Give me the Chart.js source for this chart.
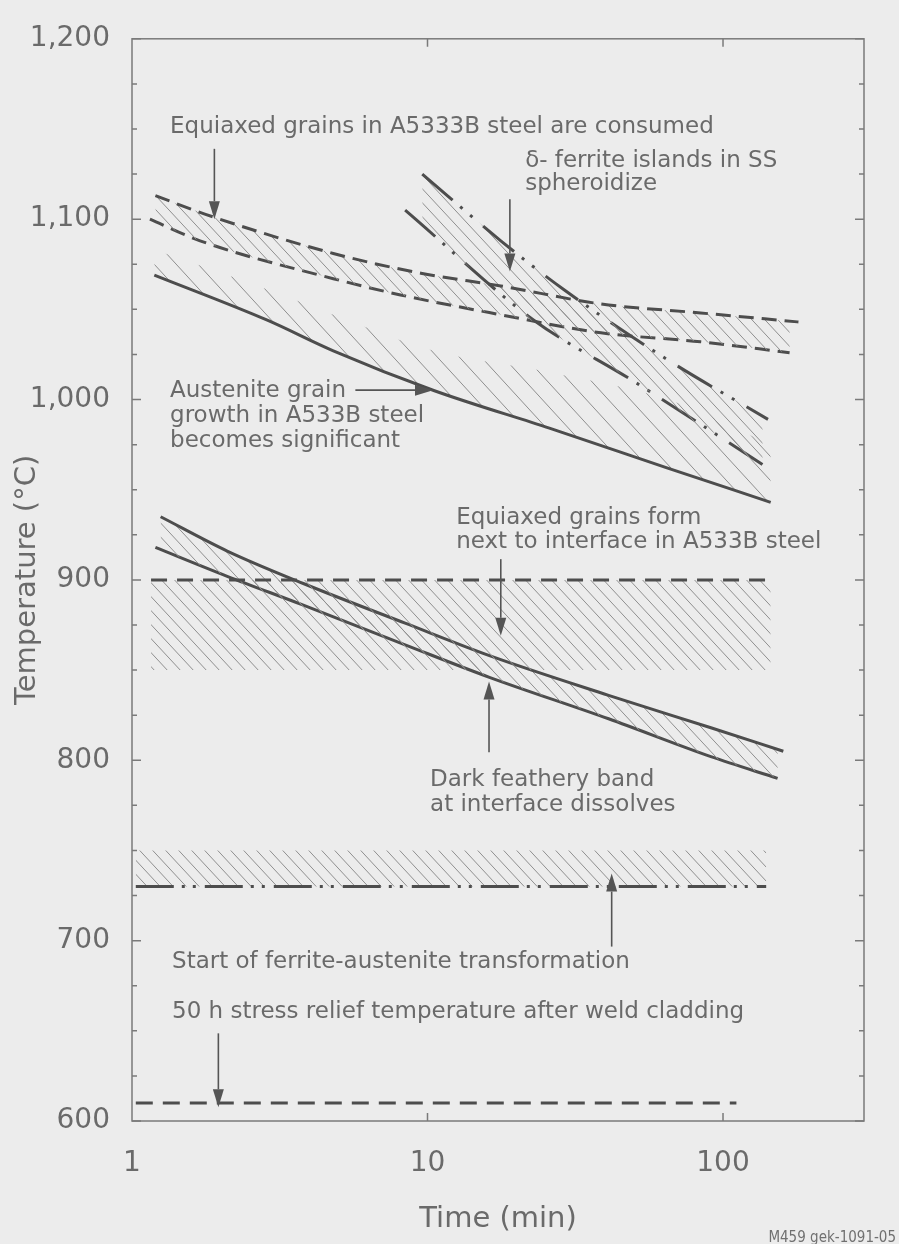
<!DOCTYPE html>
<html>
<head>
<meta charset="utf-8">
<script src="https://cdn.jsdelivr.net/npm/chart.js@4.4.1/dist/chart.umd.min.js"></script>
<style>
  html, body { margin: 0; padding: 0; background: #ececec; }
  canvas { display: block; }
</style>
</head>
<body>
<canvas id="c" width="899" height="1244"></canvas>
<script>
// Axis ticks
const xTicks = [1, 10, 100];
const yTicks = [600, 700, 800, 900, 1000, 1100, 1200];

// Austenite grain growth in A533B steel becomes significant (solid line + hatch above)
const growthT    = [1.19, 2.87, 4.8, 10.5, 26, 65, 145];
const growthLine = [1069, 1044, 1027, 1005, 984, 962, 943];
const growthBand = [1083, 1061, 1047, 1027, 1015, 1000, 975];

// Equiaxed grains in A533B steel are consumed (dashed pair)
const consUpT = [1.2, 1.9, 4.8, 9.5, 17.7, 38.6, 84, 180];
const consUpV = [1113, 1101, 1081, 1070, 1063, 1053, 1048, 1043];
const consLoT = [1.15, 1.7, 4.8, 8.1, 17.7, 38.6, 84, 168];
const consLoV = [1100, 1088, 1067, 1058, 1047, 1037, 1032, 1026];

// delta-ferrite islands in SS spheroidize (dash-dot-dot pair)
const deltaUpT = [9.6, 17.7, 28.9, 65, 142];
const deltaUpV = [1125, 1088, 1061, 1022, 989];
const deltaLoT = [8.4, 22.9, 50, 136];
const deltaLoV = [1105, 1044, 1010, 964];

// Equiaxed grains form next to interface (900 line, hatched down to 850)
const eqFormT = [1.16, 145];
const eqFormV = [900, 900];
const eqFormFloor = 850;

// Dark feathery band at interface dissolves (solid pair)
const bandUpT = [1.25, 2.1, 3.8, 8.4, 16.2, 41, 91, 160];
const bandUpV = [935, 916, 898, 876, 858, 836, 818, 805];
const bandLoT = [1.2, 2.1, 3.8, 8.4, 16.2, 41, 91, 153];
const bandLoV = [918, 902, 886, 864, 846, 823, 802, 790];

// Start of ferrite-austenite transformation (730 line, hatched up to 750)
const ferT = [1.03, 140];
const ferV = [730, 730];
const ferCeil = 750;

// 50 h stress relief temperature after weld cladding
const reliefT = [1.03, 111];
const reliefV = [610, 610];

// Labels anchored at (time, temperature) of the first baseline
const notes = [
  { t: 1.345, v: 1148, gap: 24, lines: ['Equiaxed grains in A5333B steel are consumed'] },
  { t: 21.4,  v: 1129, gap: 23, lines: ['\u03b4- ferrite islands in SS', 'spheroidize'] },
  { t: 1.345, v: 1001.3, gap: 25, lines: ['Austenite grain', 'growth in A533B steel', 'becomes significant'] },
  { t: 12.5,  v: 931, gap: 24.5, lines: ['Equiaxed grains form', 'next to interface in A533B steel'] },
  { t: 10.2,  v: 786, gap: 25, lines: ['Dark feathery band', 'at interface dissolves'] },
  { t: 1.366, v: 685, gap: 24, lines: ['Start of ferrite-austenite transformation'] },
  { t: 1.366, v: 657, gap: 24, lines: ['50 h stress relief temperature after weld cladding'] }
];

// Pointer arrows: tail -> head, in (time, temperature)
const arrows = [
  { from: [1.9, 1139],   to: [1.9, 1100] },
  { from: [19, 1111],    to: [19, 1071] },
  { from: [5.7, 1005.2], to: [10.44, 1005.2] },
  { from: [17.7, 911.5], to: [17.7, 869] },
  { from: [16.15, 804.4], to: [16.15, 843.7] },
  { from: [42, 696.7],   to: [42, 737.2] },
  { from: [1.96, 648.6], to: [1.96, 607.6] }
];

const FONT = '"DejaVu Sans", sans-serif';
const INK = '#4d4d4d';
const TEXT = '#6a6a6a';
const BG = '#ececec';

const canvas = document.getElementById('c');
const ctx2d = canvas.getContext('2d');

function hatch(w, h) {
  const c = document.createElement('canvas');
  c.width = w; c.height = h;
  const g = c.getContext('2d');
  g.strokeStyle = '#8e8e8e';
  g.lineWidth = 1;
  g.beginPath();
  for (const dx of [-w, 0, w]) { g.moveTo(dx, 0); g.lineTo(dx + w, h); }
  g.stroke();
  return ctx2d.createPattern(c, 'repeat');
}
const dense = hatch(13, 14);
const sparse = hatch(22, 24);

const pts = (T, V) => T.map((t, i) => ({ x: t, y: V[i] }));
function series(T, V, extra) {
  return Object.assign({
    data: pts(T, V),
    borderColor: INK,
    borderWidth: 3,
    pointRadius: 0,
    fill: false,
    cubicInterpolationMode: 'monotone',
    borderCapStyle: 'butt'
  }, extra || {});
}
const dashDotDot = [40, 10, 3, 10, 3, 14];

const decor = {
  id: 'decor',
  beforeDraw(chart) {
    const { ctx, width, height } = chart;
    ctx.save();
    ctx.fillStyle = BG;
    ctx.fillRect(0, 0, width, height);
    ctx.restore();
  },
  afterDraw(chart) {
    const { ctx, chartArea: a, scales: { x, y } } = chart;
    ctx.save();
    // plot frame with inward ticks
    ctx.strokeStyle = '#7a7a7a';
    ctx.lineWidth = 1.5;
    ctx.strokeRect(a.left, a.top, a.right - a.left, a.bottom - a.top);
    ctx.beginPath();
    for (let v = 600; v <= 1200; v += 25) {
      const py = y.getPixelForValue(v);
      const len = v % 100 === 0 ? 9 : 5;
      ctx.moveTo(a.left, py); ctx.lineTo(a.left + len, py);
      ctx.moveTo(a.right, py); ctx.lineTo(a.right - len, py);
    }
    for (const t of [10, 100]) {
      const px = x.getPixelForValue(t);
      ctx.moveTo(px, a.top); ctx.lineTo(px, a.top + 8);
      ctx.moveTo(px, a.bottom); ctx.lineTo(px, a.bottom - 8);
    }
    ctx.stroke();

    // labels
    ctx.fillStyle = TEXT;
    ctx.font = '23px ' + FONT;
    ctx.textAlign = 'left';
    ctx.textBaseline = 'alphabetic';
    for (const n of notes) {
      const px = x.getPixelForValue(n.t);
      const py = y.getPixelForValue(n.v);
      n.lines.forEach((s, i) => ctx.fillText(s, px, py + i * n.gap));
    }

    // arrows
    ctx.strokeStyle = '#555555';
    ctx.fillStyle = '#555555';
    ctx.lineWidth = 1.6;
    for (const ar of arrows) {
      const x0 = x.getPixelForValue(ar.from[0]), y0 = y.getPixelForValue(ar.from[1]);
      const x1 = x.getPixelForValue(ar.to[0]),   y1 = y.getPixelForValue(ar.to[1]);
      const ang = Math.atan2(y1 - y0, x1 - x0);
      const hl = 18, hw = 5.5;
      const bx = x1 - hl * Math.cos(ang), by = y1 - hl * Math.sin(ang);
      ctx.beginPath();
      ctx.moveTo(x0, y0); ctx.lineTo(bx, by);
      ctx.stroke();
      ctx.beginPath();
      ctx.moveTo(x1, y1);
      ctx.lineTo(bx + hw * Math.sin(ang), by - hw * Math.cos(ang));
      ctx.lineTo(bx - hw * Math.sin(ang), by + hw * Math.cos(ang));
      ctx.closePath();
      ctx.fill();
    }

    // figure id
    ctx.fillStyle = '#707070';
    ctx.font = '15px "DejaVu Sans Condensed", "DejaVu Sans", sans-serif';
    ctx.textAlign = 'right';
    ctx.fillText('M459 gek-1091-05', 896, 1242);
    ctx.restore();
  }
};

new Chart(canvas, {
  type: 'line',
  data: {
    datasets: [
      series(growthT, growthBand, { borderWidth: 0, borderColor: 'rgba(0,0,0,0)' }),
      series(growthT, growthLine, { fill: { target: 0 }, backgroundColor: sparse }),
      series(consUpT, consUpV, { borderDash: [15, 8], fill: { target: 3 }, backgroundColor: dense }),
      series(consLoT, consLoV, { borderDash: [15, 8] }),
      series(deltaUpT, deltaUpV, { borderDash: dashDotDot, fill: { target: 5 }, backgroundColor: dense }),
      series(deltaLoT, deltaLoV, { borderDash: dashDotDot }),
      series(eqFormT, eqFormV, { borderDash: [16, 10], fill: { value: eqFormFloor }, backgroundColor: dense }),
      series(bandUpT, bandUpV, { fill: { target: 8 }, backgroundColor: dense }),
      series(bandLoT, bandLoV),
      series(ferT, ferV, { borderDash: [38, 8, 3, 8, 3, 9], fill: { value: ferCeil }, backgroundColor: dense }),
      series(reliefT, reliefV, { borderDash: [17, 10] })
    ]
  },
  options: {
    responsive: false,
    animation: false,
    devicePixelRatio: 1,
    layout: { padding: { top: 23, right: 35, left: 0, bottom: 0 } },
    plugins: { legend: { display: false }, tooltip: { enabled: false } },
    scales: {
      x: {
        type: 'logarithmic',
        min: 1, max: 300,
        grid: { display: false, drawTicks: false },
        border: { display: false },
        afterBuildTicks: s => { s.ticks = xTicks.map(v => ({ value: v })); },
        afterFit: s => { s.height = 123; },
        ticks: {
          padding: 26, color: TEXT, maxRotation: 0, autoSkip: false,
          font: { family: FONT, size: 28 },
          callback: v => String(v)
        },
        title: {
          display: true, text: 'Time (min)', color: TEXT,
          font: { family: FONT, size: 29 },
          padding: { top: 0, bottom: 7 }
        }
      },
      y: {
        type: 'linear',
        min: 600, max: 1200,
        grid: { display: false, drawTicks: false },
        border: { display: false },
        afterBuildTicks: s => { s.ticks = yTicks.map(v => ({ value: v })); },
        afterFit: s => { s.width = 132; },
        ticks: {
          padding: 22, color: TEXT,
          font: { family: FONT, size: 28 },
          callback: v => v.toLocaleString('en-US')
        },
        title: {
          display: true, text: 'Temperature (\u00b0C)', color: TEXT,
          font: { family: FONT, size: 29 },
          padding: { top: 10, bottom: 0 }
        }
      }
    }
  },
  plugins: [decor]
});
</script>
</body>
</html>
